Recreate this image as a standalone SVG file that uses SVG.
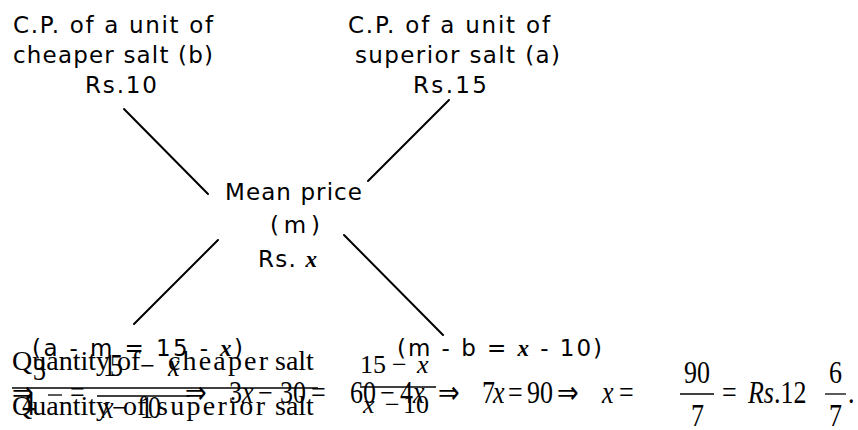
<svg xmlns="http://www.w3.org/2000/svg" width="858" height="430" viewBox="0 0 858 430">
<style>
.s{font-family:"DejaVu Sans",Verdana,sans-serif;font-size:23px;fill:#000}
.xv{font-family:"Liberation Serif",serif;font-weight:bold;font-style:italic}
.m{font-family:"Liberation Serif","Times New Roman",serif;font-size:26px;fill:#000}
.ma{font-family:"Liberation Serif","Times New Roman",serif;font-size:28px;fill:#000}
.i{font-style:italic}
.ln{stroke:#000;stroke-width:2;stroke-linecap:round;fill:none}
.bar{stroke:#000;stroke-width:1.3;fill:none}
</style>
<rect width="858" height="430" fill="#fff"/>
<g id="cheaper">
<text class="s" x="13" y="33" textLength="200" lengthAdjust="spacing">C.P. of a unit of</text>
<text class="s" x="13" y="63" textLength="200" lengthAdjust="spacing">cheaper salt (b)</text>
<text class="s" x="85" y="93" textLength="72" lengthAdjust="spacing">Rs.10</text>
</g>
<g id="superior">
<text class="s" x="348" y="33" textLength="202" lengthAdjust="spacing">C.P. of a unit of</text>
<text class="s" x="355" y="63" textLength="205" lengthAdjust="spacing">superior salt (a)</text>
<text class="s" x="413" y="93" textLength="74" lengthAdjust="spacing">Rs.15</text>
</g>
<g id="mean">
<text class="s" x="225" y="200" textLength="137" lengthAdjust="spacing">Mean price</text>
<text class="s" x="270" y="233" textLength="50" lengthAdjust="spacing">(m)</text>
<text class="s" x="258" y="267" textLength="59" lengthAdjust="spacing">Rs. <tspan class="xv">x</tspan></text>
</g>
<g id="diff-a">
<text class="s" x="32" y="356" textLength="211" lengthAdjust="spacing">(a - m = 15 - <tspan class="xv">x</tspan>)</text>
</g>
<g id="diff-b">
<text class="s" x="397" y="356" textLength="205" lengthAdjust="spacing">(m - b = <tspan class="xv">x</tspan> - 10)</text>
</g>
<g id="connectors">
<line class="ln" x1="124" y1="109" x2="208" y2="194"/>
<line class="ln" x1="449" y1="100" x2="368" y2="181"/>
<line class="ln" x1="218" y1="240" x2="134" y2="324"/>
<line class="ln" x1="344" y1="235" x2="443" y2="335"/>
</g>
<g id="formula-a" class="ma">
<text x="12" y="370">Quantity</text>
<text x="117" y="370">of</text>
<text x="168" y="370" textLength="100" lengthAdjust="spacing">cheaper</text>
<text x="275" y="370">salt</text>
<text x="12" y="415">Quantity</text>
<text x="123" y="415">of</text>
<text x="157" y="415" textLength="108" lengthAdjust="spacing">superior</text>
<text x="275" y="415">salt</text>
<line class="bar" x1="12" y1="388" x2="318" y2="388"/>
<text y="373" class="m"><tspan x="360">15</tspan><tspan x="392">−</tspan><tspan x="417" class="i">x</tspan></text>
<text y="413" class="m"><tspan x="363" class="i">x</tspan><tspan x="385">−</tspan><tspan x="403">10</tspan></text>
<line class="bar" x1="360" y1="387" x2="436" y2="387"/>
</g>
<g id="formula-b">
<g class="m" transform="matrix(1 0 0 1.2 0 0)">
<text y="335.8"><tspan x="12">⇒</tspan><tspan x="70">=</tspan><tspan x="185">⇒</tspan><tspan x="229">3</tspan><tspan x="242" class="i">x</tspan><tspan x="258">−</tspan><tspan x="280">30</tspan><tspan x="311">=</tspan><tspan x="350">60</tspan><tspan x="380">−</tspan><tspan x="400">4</tspan><tspan x="413" class="i">x</tspan><tspan x="438">⇒</tspan><tspan x="482">7</tspan><tspan x="493" class="i">x</tspan><tspan x="508">=</tspan><tspan x="527">90</tspan><tspan x="557">⇒</tspan><tspan x="602" class="i">x</tspan><tspan x="619">=</tspan><tspan x="722">=</tspan><tspan x="748" class="i">Rs</tspan><tspan>.12</tspan></text>
<text y="316.7" x="33">3</text>
<text y="345.8" x="22">4</text>
<text y="313.3"><tspan x="103">1</tspan><tspan x="110">5</tspan><tspan x="140">−</tspan><tspan x="168" class="i">x</tspan></text>
<text y="348.3"><tspan x="102" class="i">x</tspan><tspan x="112">−</tspan><tspan x="140">1</tspan><tspan x="148">0</tspan></text>
<text y="319.2" x="684">90</text>
<text y="355" x="691">7</text>
<text y="319.2" x="829">6</text>
<text y="355" x="829">7</text>
<text y="335.8" x="848">.</text>
</g>
<line class="bar" x1="48" y1="395" x2="62" y2="395"/>
<line class="bar" x1="97" y1="396" x2="190" y2="396"/>
<line class="bar" x1="680" y1="394" x2="714" y2="394"/>
<line class="bar" x1="825" y1="394" x2="846" y2="394"/>
</g>
</svg>
